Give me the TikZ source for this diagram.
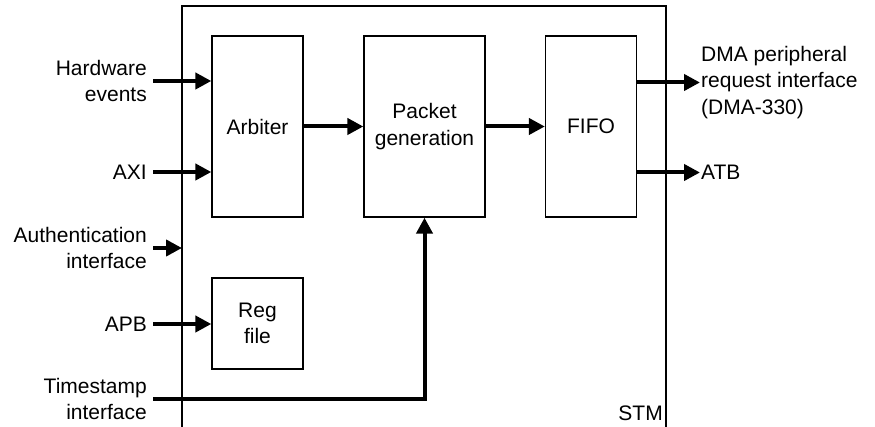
\documentclass[tikz,border=0pt]{standalone}
\usepackage{fontspec}
\setmainfont{Liberation Sans}
\usetikzlibrary{arrows.meta,calc}
\begin{document}
\begin{tikzpicture}[x=1pt,y=-1pt,
  txt/.style={font=\fontsize{21}{26.5}\selectfont},
  blk/.style={txt, draw, line width=1.3pt, inner sep=0pt, align=center},
  lbl/.style={txt, inner sep=0pt},
  frame/.style={line width=1.3pt},
  sig/.style={line width=4pt, -{Triangle[length=16pt,width=16pt]}}]
\useasboundingbox (0,0) rectangle (875,427);
% STM frame (open at the bottom)
\coordinate (stmbl) at (182,428);
\coordinate (stmtl) at (182,6);
\coordinate (stmtr) at (666,6);
\coordinate (stmbr) at (666,428);
\draw[frame] (stmbl) -- (stmtl) -- (stmtr) -- (stmbr);
\node[lbl, anchor=base east] (stm) at (663,420.5) {STM};
% blocks
\node[blk, minimum width=91pt, minimum height=181pt] (arb) at (257.5,126.5) {Arbiter};
\node[blk, minimum width=121pt, minimum height=181pt] (pkt) at (424.5,126.5) {Packet\\generation};
\node[blk, minimum width=91pt, minimum height=181pt] (fifo) at (591,126.5) {FIFO};
\node[blk, minimum width=91pt, minimum height=91pt] (reg) at (257.5,323.5) {Reg\\file};
% left labels
\node[lbl, anchor=east, align=right] (hw) at (147,81) {Hardware\\events};
\node[lbl, anchor=east, align=right] (axi) at (147,172) {AXI};
\node[lbl, anchor=east, align=right] (auth) at (147,248) {Authentication\\interface};
\node[lbl, anchor=east, align=right] (apb) at (147,324) {APB};
\node[lbl, anchor=east, align=right] (ts) at (147,399) {Timestamp\\interface};
% right labels
\node[lbl, anchor=west, align=left] (dma) at (701,82.5) {DMA peripheral\\request interface\\(DMA-330)};
\node[lbl, anchor=west, align=left] (atb) at (701,172.5) {ATB};
% connectors
\draw[sig] ([xshift=6pt]hw.east) -- (arb.west |- hw.east);
\draw[sig] ([xshift=6pt]axi.east) -- (arb.west |- axi.east);
\draw[sig] ([xshift=6pt]auth.east) -- (stmtl |- auth.east);
\draw[sig] ([xshift=6pt]apb.east) -- (reg.west |- apb.east);
\draw[sig] ([xshift=6pt]ts.east) -| (pkt.south);
\draw[sig] (arb.east) -- (pkt.west);
\draw[sig] (pkt.east) -- (fifo.west);
\draw[sig] (fifo.east |- dma.west) -- ([xshift=-1pt]dma.west);
\draw[sig] (fifo.east |- atb.west) -- ([xshift=-1pt]atb.west);
\end{tikzpicture}
\end{document}
